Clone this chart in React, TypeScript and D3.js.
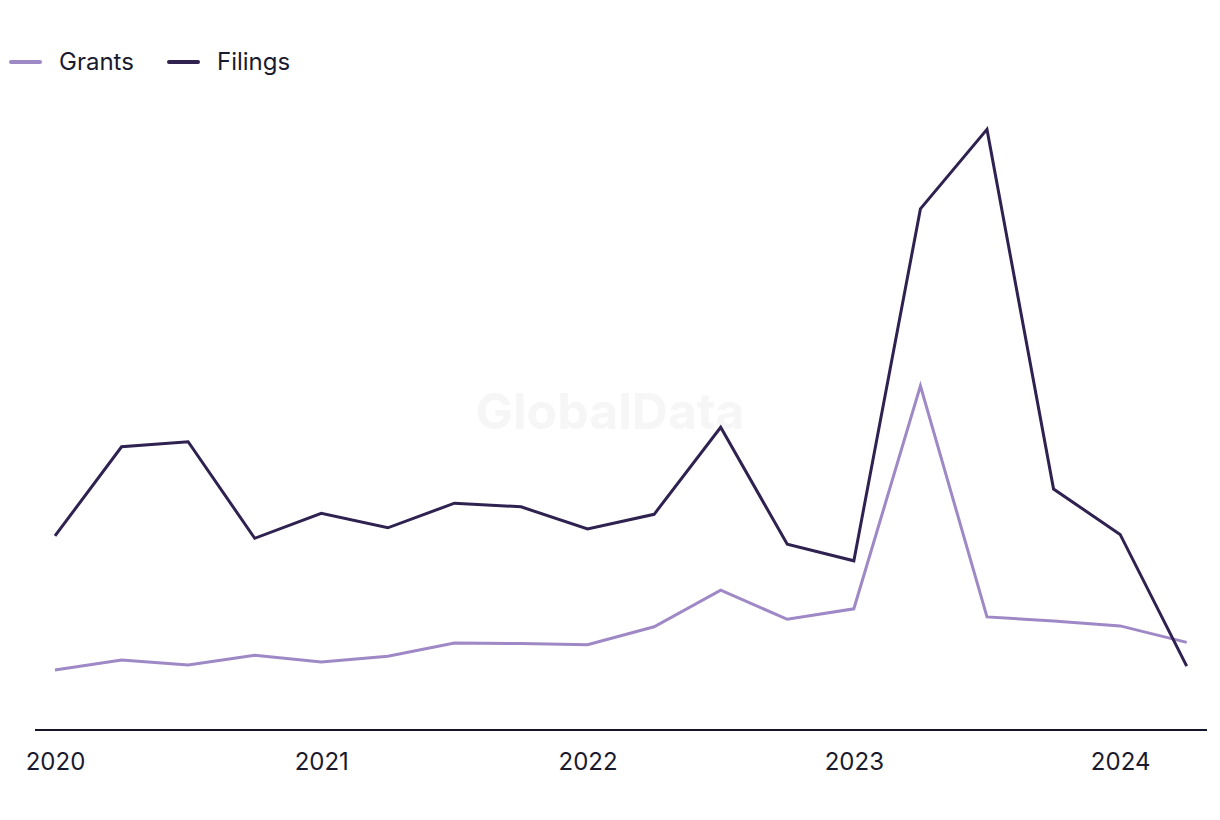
import React, { useEffect, useRef } from 'react';
import * as d3 from 'd3';

const quarters = [
  '2020 Q1', '2020 Q2', '2020 Q3', '2020 Q4',
  '2021 Q1', '2021 Q2', '2021 Q3', '2021 Q4',
  '2022 Q1', '2022 Q2', '2022 Q3', '2022 Q4',
  '2023 Q1', '2023 Q2', '2023 Q3', '2023 Q4',
  '2024 Q1', '2024 Q2'
];
const grants = [20, 23.3, 21.7, 24.9, 22.7, 24.6, 29, 28.8, 28.4, 34.4, 46.6, 36.9, 40.4, 114.7, 37.7, 36.3, 34.7, 29.2];
const filings = [64.7, 94.4, 96.1, 63.9, 72.2, 67.4, 75.6, 74.4, 67, 71.9, 100.9, 61.9, 56.4, 173.7, 200.2, 80.3, 65.2, 21.3];
const yearTicks = ['2020 Q1', '2021 Q1', '2022 Q1', '2023 Q1', '2024 Q1'];

const FONT = 'Inter, sans-serif';
const GRANTS_COLOR = '#9f88c6';
const FILINGS_COLOR = '#2f2150';

const App = () => {
  const ref = useRef(null);

  useEffect(() => {
    const width = 1220;
    const height = 820;
    const svg = d3.select(ref.current);
    svg.selectAll('*').remove();
    svg.attr('width', width).attr('height', height);

    const x = d3.scalePoint()
      .domain(quarters)
      .range([55, 1186.7])
      .padding(0);

    const y = d3.scaleLinear()
      .domain([0, 200])
      .range([730, 130]);

    // watermark
    svg.append('text')
      .attr('x', 610)
      .attr('y', 429)
      .attr('text-anchor', 'middle')
      .attr('font-family', FONT)
      .attr('font-weight', 700)
      .attr('font-size', 50)
      .attr('fill', '#f6f6f6')
      .text('GlobalData');

    // x axis
    const axis = svg.append('g')
      .attr('transform', `translate(0,${y(0)})`)
      .call(d3.axisBottom(x).tickValues(yearTicks).tickSize(0).tickPadding(23).tickFormat(d => d.slice(0, 4)));
    axis.select('.domain')
      .attr('d', 'M35,0H1207')
      .attr('stroke', '#16162a')
      .attr('stroke-width', 2);
    axis.selectAll('text')
      .attr('font-family', FONT)
      .attr('font-size', 24)
      .attr('fill', '#1a1a2e');

    const line = d3.line()
      .x((d, i) => x(quarters[i]))
      .y(d => y(d));

    svg.append('path')
      .datum(grants)
      .attr('fill', 'none')
      .attr('stroke', GRANTS_COLOR)
      .attr('stroke-width', 3)
      .attr('d', line);

    svg.append('path')
      .datum(filings)
      .attr('fill', 'none')
      .attr('stroke', FILINGS_COLOR)
      .attr('stroke-width', 3)
      .attr('d', line);

    // legend
    const legend = svg.append('g').attr('transform', 'translate(0,62)');
    const items = [
      { name: 'Grants', color: GRANTS_COLOR, x: 11 },
      { name: 'Filings', color: FILINGS_COLOR, x: 169 }
    ];
    items.forEach(it => {
      legend.append('line')
        .attr('x1', it.x).attr('x2', it.x + 29)
        .attr('y1', 0).attr('y2', 0)
        .attr('stroke', it.color)
        .attr('stroke-width', 4)
        .attr('stroke-linecap', 'round');
      legend.append('text')
        .attr('x', it.x + 48)
        .attr('y', 8)
        .attr('font-family', FONT)
        .attr('font-size', 24)
        .attr('fill', '#1a1a2e')
        .text(it.name);
    });
  }, []);

  return (
    <div style={{ position: 'absolute', left: 0, top: 0, background: '#fff' }}>
      <svg ref={ref} style={{ display: 'block' }}></svg>
    </div>
  );
};

export default App;
